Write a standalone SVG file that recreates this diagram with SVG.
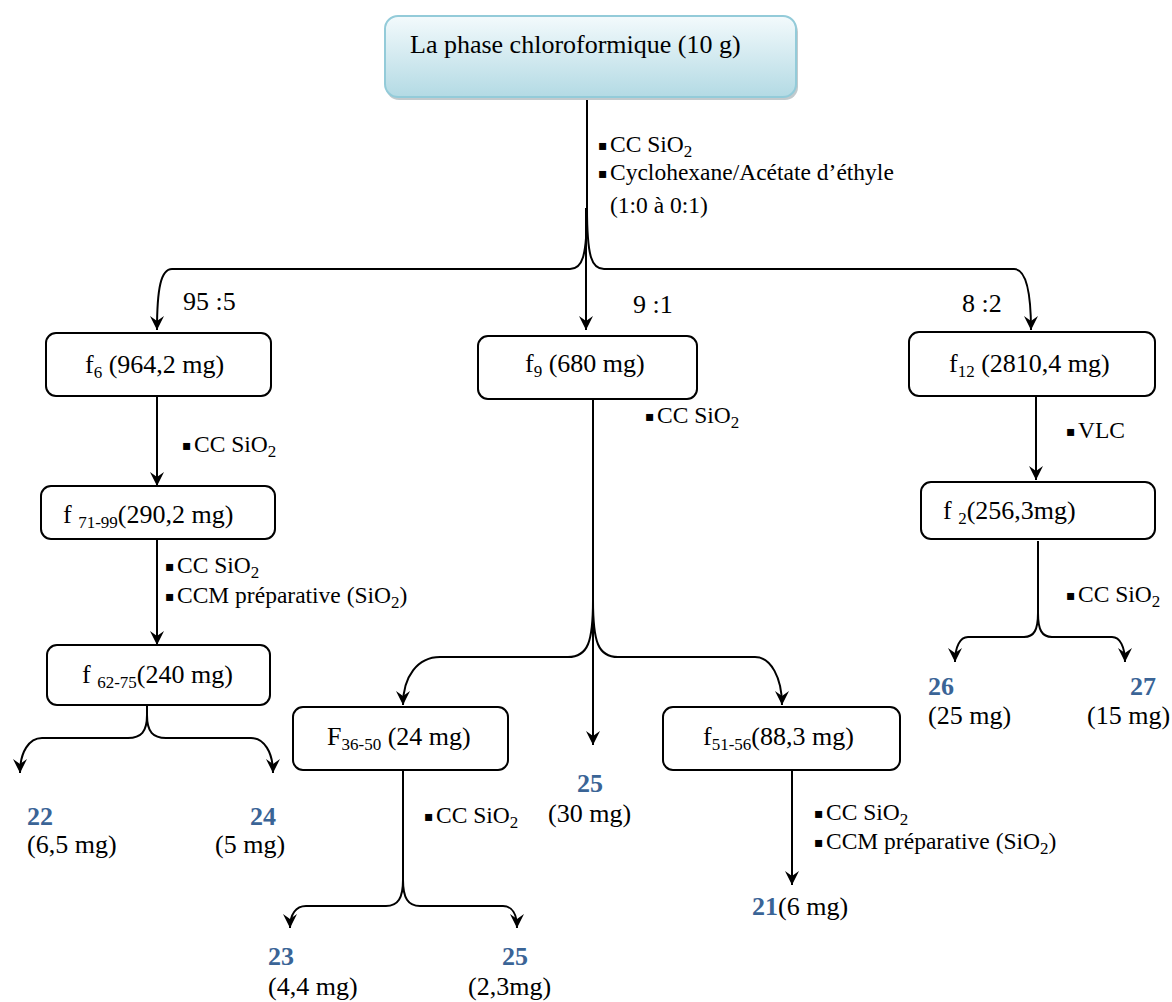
<svg xmlns="http://www.w3.org/2000/svg" width="1172" height="1002" viewBox="0 0 1172 1002" font-family="'Liberation Serif', 'Times New Roman', Tinos, serif">
  <defs>
    <linearGradient id="topFill" x1="0" y1="0" x2="0" y2="1">
      <stop offset="0" stop-color="#f3fafc"/>
      <stop offset="1" stop-color="#b3dae4"/>
    </linearGradient>
    <marker id="arr" viewBox="-15 -8 16 16" refX="0" refY="0" markerWidth="16" markerHeight="16" markerUnits="userSpaceOnUse" orient="auto">
      <path d="M0,0 L-14,-7 L-9,0 L-14,7 Z" fill="#000"/>
    </marker>
    <style>
      .n { fill: #fff; stroke: #000; stroke-width: 2; }
      .t { font-family: 'Liberation Serif', 'Times New Roman', Tinos, serif; font-size: 26px; fill: #000; }
      .l { font-size: 23.5px; }
      .b { font-size: 14px; font-family: 'DejaVu Sans', sans-serif; }
      .s { font-size: 17px; }
      .num { font-weight: bold; fill: #3a6496; }
      .c { fill: none; stroke: #000; stroke-width: 2; }
      .a { marker-end: url(#arr); }
    </style>
  </defs>
  <rect width="1172" height="1002" fill="#fff"/>

  <!-- source node -->
  <g id="node-phase">
    <rect x="386" y="19" width="412" height="81" rx="13" fill="#9aa7ab" opacity="0.6"/>
    <rect x="385" y="16" width="411" height="81" rx="13" fill="url(#topFill)" stroke="#93cbd9" stroke-width="2"/>
    <text class="t" x="410" y="53" font-size="26.5" fill="#2f5f69">La phase chloroformique (10 g<tspan fill="#000">)</tspan></text>
  </g>

  <!-- connectors -->
  <g id="connectors">
    <path class="c" d="M587,100 L587,208"/>
    <path class="c a" d="M587,208 C587,258 582,269 570,269 L172,269 C161,269 157,288 157,330"/>
    <path class="c a" d="M586,208 L586,330"/>
    <path class="c a" d="M587,208 C587,258 592,269 604,269 L1014,269 C1025,269 1031,288 1031,330"/>

    <path class="c a" d="M157,396 L157,486"/>
    <path class="c a" d="M157,539 L157,645"/>
    <path class="c" d="M147,705 L147,715"/>
    <path class="c a" d="M147,715 C147,732 141,738 128,738 L42,738 C29,738 20,752 20,773"/>
    <path class="c a" d="M147,715 C147,732 153,738 166,738 L251,738 C264,738 273,752 273,773"/>

    <path class="c" d="M593,399 L593,600"/>
    <path class="c a" d="M593,600 C593,642 588,657 568,657 L440,657 C418,657 403,676 403,705"/>
    <path class="c a" d="M593,600 L593,745"/>
    <path class="c a" d="M593,600 C593,642 598,657 618,657 L755,657 C771,657 782,678 782,705"/>

    <path class="c" d="M403,770 L403,880"/>
    <path class="c a" d="M403,880 C403,898 398,906 386,906 L306,906 C296,906 290,914 290,928"/>
    <path class="c a" d="M403,880 C403,898 408,906 420,906 L503,906 C512,906 517,914 517,928"/>

    <path class="c a" d="M792,770 L792,885"/>

    <path class="c a" d="M1036,396 L1036,480"/>
    <path class="c" d="M1038,541 L1038,613"/>
    <path class="c a" d="M1038,613 C1038,630 1034,637 1024,637 L968,637 C960,637 955,647 955,662"/>
    <path class="c a" d="M1038,613 C1038,630 1042,637 1052,637 L1112,637 C1120,637 1125,647 1125,662"/>
  </g>

  <!-- edge labels -->
  <g id="labels-top">
    <text class="t l" x="598" y="152"><tspan class="b" dy="-2">▪</tspan><tspan x="610" dy="2">CC SiO</tspan><tspan class="s" dy="5">2</tspan></text>
    <text class="t l" x="598" y="180"><tspan class="b" dy="-2">▪</tspan><tspan x="610" dy="2">Cyclohexane/Acétate d’éthyle</tspan></text>
    <text class="t l" x="610" y="213">(1:0 à 0:1)</text>
    <text class="t" x="183" y="310">95 :5</text>
    <text class="t" x="633" y="313">9 :1</text>
    <text class="t" x="962" y="312">8 :2</text>
  </g>

  <!-- left branch -->
  <g id="node-f6">
    <rect class="n" x="46" y="333" width="225" height="63" rx="10"/>
    <text class="t" x="85" y="373">f<tspan class="s" dy="5">6</tspan><tspan dy="-5"> (964,2 mg)</tspan></text>
  </g>
  <text class="t l" x="182" y="452"><tspan class="b" dy="-2">▪</tspan><tspan x="194" dy="2">CC SiO</tspan><tspan class="s" dy="5">2</tspan></text>
  <g id="node-f71-99">
    <rect class="n" x="41" y="486" width="234" height="53" rx="10"/>
    <text class="t" x="63" y="523">f <tspan class="s" dy="5">71-99</tspan><tspan dy="-5">(290,2 mg)</tspan></text>
  </g>
  <text class="t l" x="165" y="573"><tspan class="b" dy="-2">▪</tspan><tspan x="177" dy="2">CC SiO</tspan><tspan class="s" dy="5">2</tspan></text>
  <text class="t l" x="165" y="603"><tspan class="b" dy="-2">▪</tspan><tspan x="177" dy="2">CCM préparative (SiO</tspan><tspan class="s" dy="5">2</tspan><tspan dy="-5">)</tspan></text>
  <g id="node-f62-75">
    <rect class="n" x="47" y="645" width="223" height="60" rx="10"/>
    <text class="t" x="82" y="683">f <tspan class="s" dy="5">62-75</tspan><tspan dy="-5">(240 mg)</tspan></text>
  </g>
  <g id="node-22">
    <text class="t num" x="27" y="825">22</text>
    <text class="t" x="27" y="853">(6,5 mg)</text>
  </g>
  <g id="node-24">
    <text class="t num" x="250" y="825">24</text>
    <text class="t" x="215" y="853">(5 mg)</text>
  </g>

  <!-- middle branch -->
  <g id="node-f9">
    <rect class="n" x="478" y="336" width="219" height="63" rx="10"/>
    <text class="t" x="525" y="372">f<tspan class="s" dy="5">9</tspan><tspan dy="-5"> (680 mg)</tspan></text>
  </g>
  <text class="t l" x="645" y="423"><tspan class="b" dy="-2">▪</tspan><tspan x="657" dy="2">CC SiO</tspan><tspan class="s" dy="5">2</tspan></text>
  <g id="node-F36-50">
    <rect class="n" x="293" y="707" width="215" height="63" rx="10"/>
    <text class="t" x="327" y="745">F<tspan class="s" dy="5">36-50</tspan><tspan dy="-5"> (24 mg)</tspan></text>
  </g>
  <g id="node-25a">
    <text class="t num" x="577" y="792">25</text>
    <text class="t" x="548" y="822">(30 mg)</text>
  </g>
  <g id="node-f51-56">
    <rect class="n" x="663" y="707" width="237" height="63" rx="10"/>
    <text class="t" x="703" y="745">f<tspan class="s" dy="5">51-56</tspan><tspan dy="-5">(88,3 mg)</tspan></text>
  </g>
  <text class="t l" x="424" y="823"><tspan class="b" dy="-2">▪</tspan><tspan x="436" dy="2">CC SiO</tspan><tspan class="s" dy="5">2</tspan></text>
  <text class="t l" x="814" y="820"><tspan class="b" dy="-2">▪</tspan><tspan x="826" dy="2">CC SiO</tspan><tspan class="s" dy="5">2</tspan></text>
  <text class="t l" x="814" y="849"><tspan class="b" dy="-2">▪</tspan><tspan x="826" dy="2">CCM préparative (SiO</tspan><tspan class="s" dy="5">2</tspan><tspan dy="-5">)</tspan></text>
  <g id="node-23">
    <text class="t num" x="268" y="965">23</text>
    <text class="t" x="268" y="995">(4,4 mg)</text>
  </g>
  <g id="node-25b">
    <text class="t num" x="502" y="965">25</text>
    <text class="t" x="468" y="995">(2,3mg)</text>
  </g>
  <g id="node-21">
    <text class="t" x="752" y="915"><tspan class="num">21</tspan>(6 mg)</text>
  </g>

  <!-- right branch -->
  <g id="node-f12">
    <rect class="n" x="909" y="332" width="246" height="64" rx="10"/>
    <text class="t" x="949" y="372">f<tspan class="s" dy="5">12</tspan><tspan dy="-5"> (2810,4 mg)</tspan></text>
  </g>
  <text class="t l" x="1066" y="438"><tspan class="b" dy="-2">▪</tspan><tspan x="1078" dy="2">VLC</tspan></text>
  <g id="node-f2">
    <rect class="n" x="921" y="482" width="234" height="57" rx="10"/>
    <text class="t" x="943" y="519">f <tspan class="s" dy="5">2</tspan><tspan dy="-5">(256,3mg)</tspan></text>
  </g>
  <text class="t l" x="1066" y="602"><tspan class="b" dy="-2">▪</tspan><tspan x="1078" dy="2">CC SiO</tspan><tspan class="s" dy="5">2</tspan></text>
  <g id="node-26">
    <text class="t num" x="928" y="695">26</text>
    <text class="t" x="928" y="724">(25 mg)</text>
  </g>
  <g id="node-27">
    <text class="t num" x="1130" y="695">27</text>
    <text class="t" x="1087" y="724">(15 mg)</text>
  </g>
</svg>
